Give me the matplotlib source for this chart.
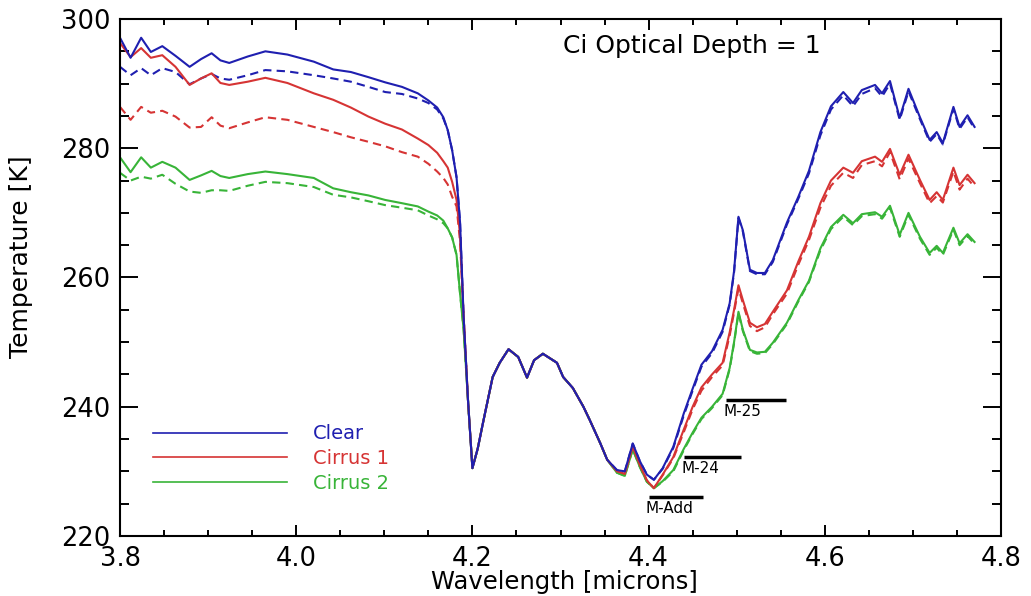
import numpy as np
import matplotlib
matplotlib.use("Agg")
import matplotlib.pyplot as plt
from matplotlib.lines import Line2D
from matplotlib.ticker import MultipleLocator, FormatStrFormatter

plt.rcParams['font.family'] = ['DejaVu Sans']

#### data ####
# wavelength grid [microns], shared by all six curves
wl = [3.800, 3.812, 3.824, 3.835, 3.848, 3.863, 3.879, 3.892, 3.904, 3.914,
      3.924, 3.945, 3.965, 3.990, 4.020, 4.042, 4.062, 4.082, 4.101, 4.120,
      4.138, 4.150, 4.160, 4.167, 4.172, 4.177, 4.182, 4.186, 4.190, 4.195,
      4.200, 4.206, 4.212, 4.223, 4.231, 4.241, 4.252, 4.262, 4.270, 4.280,
      4.296, 4.303, 4.314, 4.326, 4.333, 4.345, 4.353, 4.364, 4.373, 4.382,
      4.390, 4.398, 4.406, 4.416, 4.428, 4.440, 4.450, 4.460, 4.472, 4.484,
      4.492, 4.497, 4.502, 4.507, 4.515, 4.523, 4.532, 4.541, 4.557, 4.570,
      4.582, 4.595, 4.607, 4.621, 4.632, 4.642, 4.657, 4.665, 4.674, 4.685,
      4.695, 4.708, 4.719, 4.727, 4.734, 4.746, 4.753, 4.762, 4.770]

# brightness temperatures [K]
clear = [297.1, 294.0, 297.1, 294.9, 295.8, 294.3, 292.6, 293.8, 294.7, 293.6,
         293.2, 294.2, 295.0, 294.5, 293.4, 292.2, 291.8, 291.0, 290.2, 289.5,
         288.5, 287.4, 286.3, 284.8, 282.8, 279.7, 275.5, 268.5, 254.0, 241.0,
         230.5, 233.5, 237.5, 244.6, 246.8, 248.9, 247.7, 244.5, 247.2, 248.2,
         246.8, 244.6, 242.9, 240.0, 238.0, 234.4, 231.8, 230.2, 230.0, 234.3,
         231.6, 229.5, 228.7, 230.5, 233.8, 239.0, 242.8, 246.5, 248.6, 251.9,
         256.0, 261.0, 269.4, 267.3, 261.2, 260.7, 260.7, 262.7, 268.5, 272.5,
         276.5, 282.5, 286.5, 288.7, 287.0, 289.0, 289.8, 288.5, 290.4, 284.7,
         289.2, 284.8, 281.3, 282.5, 280.8, 286.4, 283.3, 285.1, 283.3]
clear_d = [292.6, 291.3, 292.4, 291.3, 292.4, 291.8, 289.9, 290.8, 291.5, 290.8,
           290.6, 291.3, 292.1, 291.9, 291.3, 290.8, 290.3, 289.5, 288.7, 288.4,
           287.7, 287.0, 286.0, 284.6, 282.8, 279.7, 275.5, 268.5, 254.0, 241.0,
           230.5, 233.5, 237.5, 244.6, 246.8, 248.9, 247.7, 244.5, 247.2, 248.2,
           246.8, 244.6, 242.9, 240.0, 238.0, 234.4, 231.8, 230.2, 230.0, 234.3,
           231.6, 229.5, 228.7, 230.4, 233.6, 238.7, 242.5, 246.2, 248.3, 251.6,
           255.8, 260.8, 269.2, 267.1, 261.0, 260.5, 260.5, 262.4, 268.2, 272.2,
           276.1, 282.0, 286.0, 288.2, 286.5, 288.4, 289.3, 288.0, 290.0, 284.4,
           288.8, 284.5, 281.0, 282.2, 280.6, 286.1, 283.0, 284.8, 283.0]
cirrus1 = [296.3, 294.1, 295.5, 294.0, 294.4, 292.6, 289.8, 290.8, 291.6, 290.1,
           289.8, 290.3, 290.9, 290.1, 288.5, 287.5, 286.3, 284.9, 283.8, 282.9,
           281.5, 280.5, 279.3, 278.0, 277.0, 274.8, 272.0, 266.5, 254.0, 241.0,
           230.5, 233.5, 237.5, 244.6, 246.8, 248.9, 247.7, 244.5, 247.2, 248.2,
           246.8, 244.6, 242.9, 240.0, 238.0, 234.4, 231.8, 230.0, 229.6, 233.8,
           231.0, 228.6, 227.4, 229.5, 232.2, 236.5, 240.0, 243.0, 245.0, 246.8,
           251.5, 255.0, 258.8, 256.5, 253.0, 252.3, 252.8, 254.7, 258.0, 262.5,
           266.3, 271.5, 275.0, 277.0, 276.2, 278.0, 278.7, 277.9, 279.9, 275.9,
           279.0, 275.1, 272.0, 273.2, 272.0, 277.0, 274.3, 275.9, 274.6]
cirrus1_d = [286.4, 284.4, 286.4, 285.5, 285.8, 284.9, 283.2, 283.3, 284.8, 283.5,
             283.1, 284.0, 284.8, 284.4, 283.3, 282.5, 281.7, 281.0, 280.3, 279.4,
             278.7, 277.6, 276.4, 275.4, 274.4, 272.5, 271.0, 265.5, 254.0, 241.0,
             230.5, 233.5, 237.5, 244.6, 246.8, 248.9, 247.7, 244.5, 247.2, 248.2,
             246.8, 244.6, 242.9, 240.0, 238.0, 234.4, 231.8, 230.0, 229.6, 233.8,
             231.0, 228.6, 227.4, 229.4, 232.0, 236.1, 239.6, 242.5, 244.6, 246.4,
             251.0, 254.6, 258.3, 256.0, 252.5, 251.7, 252.3, 254.3, 257.5, 262.0,
             265.8, 270.8, 274.2, 276.2, 275.4, 277.4, 278.0, 277.2, 279.4, 275.2,
             278.4, 274.6, 271.5, 272.6, 271.6, 276.4, 273.6, 275.3, 274.0]
cirrus2 = [278.6, 276.3, 278.6, 277.0, 277.9, 277.0, 275.1, 275.8, 276.5, 275.7,
           275.4, 276.0, 276.4, 276.0, 275.4, 273.8, 273.2, 272.7, 272.0, 271.5,
           271.0, 270.2, 269.6, 268.8, 267.6, 266.2, 263.5, 257.5, 252.0, 241.0,
           230.5, 233.5, 237.5, 244.6, 246.8, 248.9, 247.7, 244.5, 247.2, 248.2,
           246.8, 244.6, 242.9, 240.0, 238.0, 234.4, 231.8, 229.8, 229.3, 233.4,
           230.7, 228.4, 227.4, 228.5, 230.2, 233.5, 236.0, 238.3, 240.0, 242.0,
           246.0, 250.0, 254.7, 251.9, 248.8, 248.4, 248.5, 249.9, 253.0, 256.5,
           259.5, 264.5, 267.8, 269.7, 268.4, 269.8, 270.1, 269.4, 271.1, 266.6,
           270.0, 266.3, 263.8, 264.9, 263.8, 267.7, 265.3, 266.7, 265.5]
cirrus2_d = [276.2, 275.0, 275.6, 275.3, 275.9, 274.5, 273.3, 273.1, 273.5, 273.5,
             273.4, 274.2, 274.8, 274.6, 274.0, 272.8, 272.4, 271.8, 271.2, 270.8,
             270.4, 269.6, 269.0, 268.4, 267.6, 266.2, 263.5, 257.5, 252.0, 241.0,
             230.5, 233.5, 237.5, 244.6, 246.8, 248.9, 247.7, 244.5, 247.2, 248.2,
             246.8, 244.6, 242.9, 240.0, 238.0, 234.4, 231.8, 229.8, 229.3, 233.4,
             230.7, 228.4, 227.4, 228.4, 230.0, 233.3, 235.8, 238.1, 239.8, 241.8,
             245.8, 249.8, 254.5, 251.7, 248.6, 248.2, 248.3, 249.7, 252.8, 256.3,
             259.3, 264.2, 267.5, 269.4, 268.1, 269.5, 269.8, 269.1, 270.8, 266.3,
             269.7, 266.0, 263.5, 264.6, 263.5, 267.4, 265.0, 266.4, 265.2]

# band markers
band_names = ['M-Add', 'M-24', 'M-25']
band_start = [4.400, 4.440, 4.488]
band_end = [4.462, 4.505, 4.556]
band_level = [226.0, 232.2, 241.0]

blue = '#1f1fb0'
red = '#d63434'
green = '#38b438'

#### plotting ####
fig = plt.figure(figsize=(10.31, 5.96), dpi=100)
ax = fig.add_axes([0.1164, 0.1007, 0.8545, 0.8674])

dash = (0, (4, 2.5))
ax.plot(wl, clear_d, color=blue, lw=1.5, ls=dash)
ax.plot(wl, cirrus1_d, color=red, lw=1.5, ls=dash)
ax.plot(wl, cirrus2_d, color=green, lw=1.5, ls=dash)
ax.plot(wl, cirrus2, color=green, lw=1.5)
ax.plot(wl, cirrus1, color=red, lw=1.5)
ax.plot(wl, clear, color=blue, lw=1.5)

# band bars with their names underneath
for name, x0, x1, lev in zip(band_names, band_start, band_end, band_level):
    ax.plot([x0, x1], [lev, lev], color='black', lw=2.5, solid_capstyle='butt')
    ax.text(x0 - 0.003, lev - 0.6, name, fontsize=11, ha='left', va='top')

ax.text(0.503, 0.934, 'Ci Optical Depth = 1', transform=ax.transAxes,
        fontsize=18, ha='left', va='baseline')

handles = [Line2D([], [], color=blue, lw=1.2),
           Line2D([], [], color=red, lw=1.2),
           Line2D([], [], color=green, lw=1.2)]
ax.legend(handles, ['Clear', 'Cirrus 1', 'Cirrus 2'], loc='upper left',
          bbox_to_anchor=(0.0375, 0.216), frameon=False, fontsize=14,
          handlelength=6.9, handletextpad=1.34, labelspacing=0.29,
          borderpad=0, borderaxespad=0, labelcolor='linecolor')

# axes, ticks, labels
ax.set_xlim(3.8, 4.8)
ax.set_ylim(220, 300)
ax.xaxis.set_major_locator(MultipleLocator(0.2))
ax.xaxis.set_minor_locator(MultipleLocator(0.05))
ax.xaxis.set_major_formatter(FormatStrFormatter('%.1f'))
ax.yaxis.set_major_locator(MultipleLocator(20))
ax.yaxis.set_minor_locator(MultipleLocator(5))

ax.tick_params(axis='x', which='major', direction='in', length=8, width=1.4,
               top=True, labelsize=18.5, pad=7)
ax.tick_params(axis='x', which='minor', direction='in', length=4, width=1.4,
               top=True)
ax.tick_params(axis='y', which='major', direction='in', length=13, width=1.4,
               right=True, labelsize=18.5, pad=7)
ax.tick_params(axis='y', which='minor', direction='in', length=6.5, width=1.4,
               right=True)
for sp in ax.spines.values():
    sp.set_linewidth(1.5)

ax.set_xlabel('Wavelength [microns]', fontsize=17.5, va='baseline')
ax.xaxis.set_label_coords(0.504, -0.1025)
ax.set_ylabel('Temperature [K]', fontsize=18)
ax.yaxis.set_label_coords(-0.099, 0.54)

fig.savefig('out.png', dpi=100)
